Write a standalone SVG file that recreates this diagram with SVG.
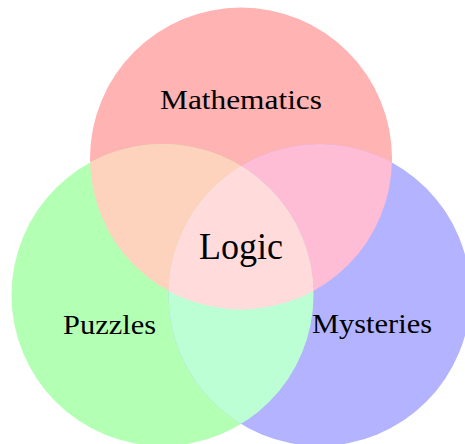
<svg xmlns="http://www.w3.org/2000/svg" width="465" height="444" viewBox="0 0 465 444">
  <style>
    text { font-family: "Liberation Serif", "Times New Roman", serif; fill: #000; text-anchor: middle; }
    .lbl { font-size: 28px; }
    .big { font-size: 37px; }
  </style>
  <defs>
    <clipPath id="cR"><circle cx="241" cy="158.5" r="151"/></clipPath>
    <clipPath id="cG"><circle cx="162.5" cy="295" r="151"/></clipPath>
    <clipPath id="cB"><circle cx="319.5" cy="295" r="151"/></clipPath>
  </defs>
  <rect width="465" height="444" fill="#ffffff"/>
  <g id="sets">
    <circle id="math" cx="241" cy="158.5" r="151" fill="#ffb3b3"/>
    <circle id="puzzles" cx="162.5" cy="295" r="151" fill="#b3ffb3"/>
    <circle id="mysteries" cx="319.5" cy="295" r="151" fill="#b3b3ff"/>
    <g clip-path="url(#cR)">
      <circle cx="162.5" cy="295" r="151" fill="#fed3bd"/>
      <circle cx="319.5" cy="295" r="151" fill="#ffbdd5"/>
    </g>
    <g clip-path="url(#cG)">
      <circle cx="319.5" cy="295" r="151" fill="#bdffd5"/>
    </g>
    <g clip-path="url(#cG)">
      <g clip-path="url(#cB)">
        <circle cx="241" cy="158.5" r="151" fill="#ffdcdb"/>
      </g>
    </g>
  </g>
  <g id="labels">
    <text class="lbl" x="241" y="109" textLength="162" lengthAdjust="spacingAndGlyphs">Mathematics</text>
    <text class="big" x="241" y="259" textLength="84" lengthAdjust="spacingAndGlyphs">Logic</text>
    <text class="lbl" x="109.5" y="334" textLength="93" lengthAdjust="spacingAndGlyphs">Puzzles</text>
    <text class="lbl" x="372" y="333" textLength="120" lengthAdjust="spacingAndGlyphs">Mysteries</text>
  </g>
</svg>
